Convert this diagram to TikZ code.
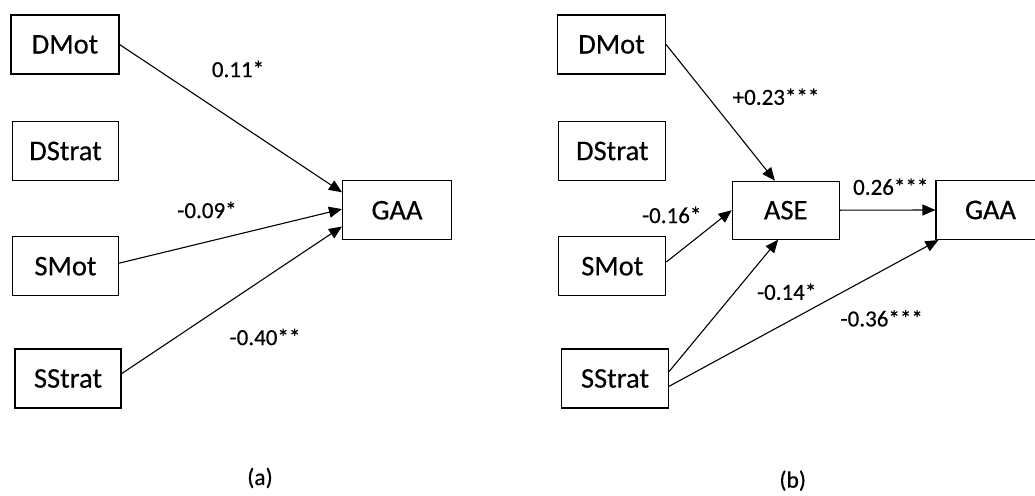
\documentclass[tikz,border=0pt]{standalone}
\usepackage{fontspec}
\setmainfont{Carlito}[FakeBold=0.4]
\usetikzlibrary{arrows.meta,calc}

\tikzset{
  var/.style={draw=black, line width=1.1pt, rectangle, minimum height=59pt,
    inner sep=0pt, font=\fontsize{28.5}{32}\selectfont},
  path/.style={line width=1.1pt, -{Triangle[length=13pt,width=11pt]}},
  coef/.style={inner sep=0pt, font=\fontsize{23}{27}\selectfont},
  caption/.style={inner sep=0pt, font=\fontsize{23.5}{27}\selectfont}
}

\begin{document}
\begin{tikzpicture}[x=1pt, y=-1pt]
\useasboundingbox (0,0) rectangle (1035,495);
\clip (0,0) rectangle (1035,495);
\fill[white] (0,0) rectangle (1035,495);

% ---------- (a): direct effects ----------
\node[var, minimum width=108pt] (lDMot)   at (65,44.5)   {DMot};
\node[var, minimum width=106pt] (lDStrat) at (65.5,151)  {DStrat};
\node[var, minimum width=106pt] (lSMot)   at (65.5,266.2) {SMot};
\node[var, minimum width=106pt] (lSStrat) at (68,378.5)  {SStrat};
\node[var, minimum width=109pt] (lGAA)    at (397,210.3) {GAA};

\draw[path] (lDMot.east) -- ($(lGAA.north west)!0.2!(lGAA.south west)$);
\draw[path] ($(lSMot.north east)!0.45!(lSMot.south east)$) -- ($(lGAA.north west)!0.48!(lGAA.south west)$);
\draw[path] ($(lSStrat.north east)!0.42!(lSStrat.south east)$) -- ($(lGAA.north west)!0.77!(lGAA.south west)$);

\node[coef] (la1) at (238,69)  {0.11*};
\node[coef] (la2) at (207,210) {-0.09*};
\node[coef] (la3) at (265,337) {-0.40**};
\node[caption] (capa) at (260,478) {(a)};

% ---------- (b): mediated by ASE ----------
\node[var, minimum width=108pt] (rDMot)   at (611.5,44.5)  {DMot};
\node[var, minimum width=107pt] (rDStrat) at (612.3,151)   {DStrat};
\node[var, minimum width=107pt] (rSMot)   at (612.3,266.2) {SMot};
\node[var, minimum width=107pt] (rSStrat) at (615,378.5)   {SStrat};
\node[var, minimum width=107pt, minimum height=58pt] (rASE) at (785.7,210.2) {ASE};
\node[var, minimum width=109pt] (rGAA)    at (990.5,210)   {GAA};

\draw[path] ($(rDMot.north east)!0.5!(rDMot.south east)$) -- ($(rASE.north west)!0.4!(rASE.north east)$);
\draw[path] ($(rSMot.north east)!0.43!(rSMot.south east)$) -- (rASE.west);
\draw[path] ($(rSStrat.north east)!0.385!(rSStrat.south east)$) -- ($(rASE.south west)!0.43!(rASE.south east)$);
\draw[path] ($(rSStrat.north east)!0.63!(rSStrat.south east)$) -- ($(rGAA.south west)+(3,0)$);
\draw[path] (rASE.east) -- (rGAA.west);

\node[coef] (rb1) at (776,96.7)  {+0.23***};
\node[coef] (rb2) at (890.7,186.7) {0.26***};
\node[coef] (rb3) at (671.7,215) {-0.16*};
\node[coef] (rb4) at (786.7,291.7) {-0.14*};
\node[coef] (rb5) at (881.7,318.3) {-0.36***};
\node[caption] (capb) at (792.7,480.7) {(b)};
\end{tikzpicture}
\end{document}
